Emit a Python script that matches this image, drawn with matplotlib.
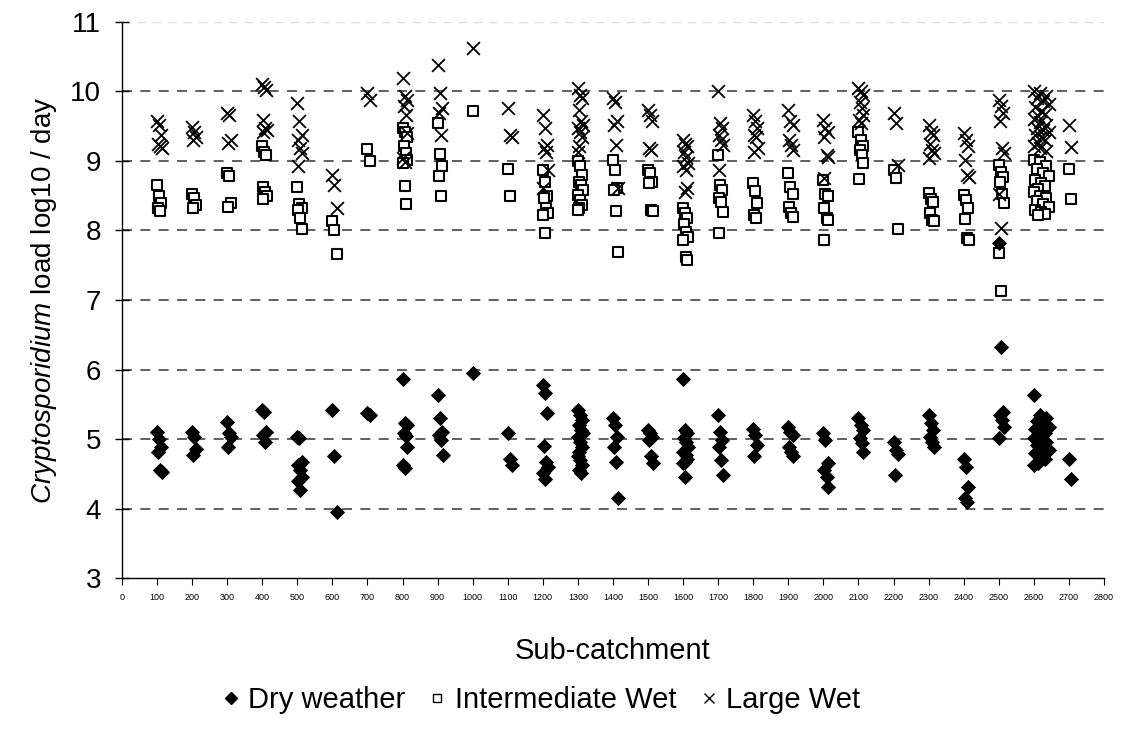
import matplotlib
matplotlib.use("Agg")
import matplotlib.pyplot as plt
from matplotlib.lines import Line2D

plt.rcParams['font.family'] = ['Liberation Sans', 'DejaVu Sans']
plt.rcParams['mathtext.fontset'] = 'custom'
plt.rcParams['mathtext.it'] = 'Liberation Sans:italic'
plt.rcParams['mathtext.rm'] = 'Liberation Sans'

# ---- data: log10 loads per sub-catchment ----
subcatchments = [100, 200, 300, 400, 500, 600, 700, 800, 900, 1000, 1100, 1200, 1300, 1400,
                 1500, 1600, 1700, 1800, 1900, 2000, 2100, 2200, 2300, 2400, 2500, 2600, 2700]

dry_weather = {
    100: [5.10, 5.00, 4.89, 4.81, 4.55, 4.53],
    200: [5.10, 5.03, 4.86, 4.77],
    300: [5.25, 5.08, 5.03, 4.89],
    400: [5.42, 5.39, 5.10, 5.06, 4.96],
    500: [5.03, 5.01, 4.67, 4.63, 4.55, 4.46, 4.39, 4.26],
    600: [5.42, 4.75, 3.95],
    700: [5.37, 5.35],
    800: [5.87, 5.23, 5.20, 5.08, 5.04, 4.89, 4.63, 4.58],
    900: [5.63, 5.30, 5.10, 5.06, 4.98, 4.77],
    1000: [5.95],
    1100: [5.08, 4.72, 4.63],
    1200: [5.78, 5.66, 5.37, 4.90, 4.67, 4.60, 4.51, 4.42],
    1300: [5.42, 5.35, 5.27, 5.20, 5.13, 5.08, 5.03, 4.96, 4.89, 4.82, 4.75, 4.70, 4.63, 4.55, 4.51],
    1400: [5.30, 5.20, 5.03, 4.89, 4.67, 4.15],
    1500: [5.13, 5.08, 5.03, 4.98, 4.75, 4.65],
    1600: [5.87, 5.13, 5.08, 5.01, 4.96, 4.89, 4.82, 4.77, 4.72, 4.67, 4.65, 4.46],
    1700: [5.35, 5.10, 4.98, 4.89, 4.70, 4.48],
    1800: [5.15, 5.06, 4.91, 4.75],
    1900: [5.18, 5.10, 5.06, 4.89, 4.82, 4.76],
    2000: [5.08, 4.98, 4.65, 4.55, 4.46, 4.31],
    2100: [5.30, 5.20, 5.13, 5.01, 4.94, 4.82],
    2200: [4.96, 4.84, 4.79, 4.48],
    2300: [5.35, 5.23, 5.13, 5.03, 4.96, 4.89],
    2400: [4.72, 4.60, 4.31, 4.15, 4.10],
    2500: [7.82, 6.33, 5.39, 5.35, 5.27, 5.18, 5.01],
    2600: [5.63, 5.35, 5.30, 5.26, 5.22, 5.18, 5.15, 5.12, 5.08, 5.05, 5.02, 4.99, 4.96,
           4.92, 4.88, 4.84, 4.80, 4.76, 4.72, 4.66, 4.62],
    2700: [4.71, 4.42],
}

intermediate_wet = {
    100: [8.65, 8.49, 8.39, 8.32, 8.28],
    200: [8.53, 8.46, 8.37, 8.33],
    300: [8.82, 8.79, 8.39, 8.34],
    400: [9.21, 9.13, 9.09, 8.63, 8.56, 8.49, 8.45],
    500: [8.63, 8.38, 8.32, 8.29, 8.18, 8.02],
    600: [8.13, 8.01, 7.66],
    700: [9.17, 9.00],
    800: [9.47, 9.42, 9.35, 9.21, 9.11, 9.01, 8.97, 8.64, 8.38],
    900: [9.55, 9.10, 8.93, 8.79, 8.50],
    1000: [9.72],
    1100: [8.88, 8.50],
    1200: [8.87, 8.70, 8.49, 8.46, 8.32, 8.25, 8.22, 7.96],
    1300: [9.00, 8.92, 8.80, 8.70, 8.65, 8.58, 8.51, 8.44, 8.37, 8.32, 8.29],
    1400: [9.01, 8.87, 8.61, 8.58, 8.28, 7.69],
    1500: [8.87, 8.82, 8.70, 8.68, 8.29, 8.28],
    1600: [8.32, 8.25, 8.18, 8.10, 7.98, 7.91, 7.86, 7.62, 7.58],
    1700: [9.09, 8.65, 8.58, 8.46, 8.41, 8.26, 7.97],
    1800: [8.68, 8.57, 8.40, 8.22, 8.18],
    1900: [8.82, 8.63, 8.53, 8.34, 8.25, 8.20],
    2000: [8.73, 8.53, 8.49, 8.33, 8.18, 8.15, 7.86],
    2100: [9.42, 9.30, 9.21, 9.16, 9.09, 8.97, 8.74],
    2200: [8.87, 8.75, 8.02],
    2300: [8.54, 8.45, 8.41, 8.25, 8.15, 8.13],
    2400: [8.51, 8.44, 8.32, 8.16, 7.89, 7.86],
    2500: [8.94, 8.84, 8.77, 8.69, 8.53, 8.40, 7.68, 7.13],
    2600: [9.02, 8.98, 8.93, 8.88, 8.83, 8.78, 8.72, 8.68, 8.64, 8.60, 8.55, 8.50, 8.46,
           8.42, 8.38, 8.34, 8.30, 8.27, 8.24, 8.22],
    2700: [8.88, 8.45],
}

large_wet = {
    100: [9.57, 9.52, 9.37, 9.25, 9.21, 9.18],
    200: [9.49, 9.42, 9.35, 9.30],
    300: [9.69, 9.66, 9.30, 9.26],
    400: [10.11, 10.06, 10.02, 9.59, 9.47, 9.44, 9.41],
    500: [9.83, 9.57, 9.37, 9.30, 9.18, 9.11, 8.92],
    600: [8.80, 8.65, 8.32],
    700: [9.97, 9.88],
    800: [10.19, 9.93, 9.88, 9.79, 9.66, 9.40, 9.04, 8.99],
    900: [10.38, 9.97, 9.76, 9.69, 9.37],
    1000: [10.62],
    1100: [9.76, 9.37, 9.35],
    1200: [9.66, 9.47, 9.23, 9.18, 9.13, 8.87, 8.61],
    1300: [10.05, 9.95, 9.90, 9.73, 9.57, 9.52, 9.47, 9.42, 9.35, 9.21, 9.13],
    1400: [9.90, 9.85, 9.57, 9.52, 9.23, 8.61],
    1500: [9.73, 9.66, 9.57, 9.18, 9.16],
    1600: [9.30, 9.25, 9.21, 9.13, 9.06, 8.97, 8.92, 8.87, 8.61, 8.56],
    1700: [10.00, 9.55, 9.47, 9.37, 9.30, 9.23, 8.87],
    1800: [9.66, 9.57, 9.47, 9.37, 9.35, 9.18, 9.13],
    1900: [9.73, 9.57, 9.52, 9.30, 9.23, 9.16],
    2000: [9.59, 9.47, 9.42, 9.35, 9.09, 9.06, 8.75],
    2100: [10.05, 10.00, 9.95, 9.85, 9.76, 9.66, 9.59, 9.55],
    2200: [9.69, 9.55, 8.94],
    2300: [9.52, 9.42, 9.37, 9.25, 9.16, 9.11, 9.04],
    2400: [9.40, 9.30, 9.21, 9.01, 8.80, 8.77],
    2500: [9.88, 9.79, 9.69, 9.57, 9.18, 9.11, 8.53, 8.03],
    2600: [10.00, 9.97, 9.93, 9.90, 9.86, 9.82, 9.78, 9.72, 9.68, 9.64, 9.60, 9.56, 9.52,
           9.48, 9.45, 9.42, 9.38, 9.34, 9.30, 9.26, 9.22, 9.18, 9.14],
    2700: [9.52, 9.20],
}

series_labels = ["Dry weather", "Intermediate Wet", "Large Wet"]
x_ticks = list(range(0, 2900, 100))
y_ticks = list(range(3, 12))

# small horizontal spread of points within a sub-catchment (layout only)
SPREAD = [0, 6, 12, 3, 9, 14, 1, 7, 11, 4]


def xy(d):
    xs, ys = [], []
    for g in subcatchments:
        vals = d.get(g, [])
        k = 3 if g == 2600 else 1
        for i, v in enumerate(vals):
            xs.append(g + k * SPREAD[i % len(SPREAD)])
            ys.append(v)
    return xs, ys


fig = plt.figure(figsize=(11.21, 7.29), dpi=100)
ax = fig.add_axes([0.1088, 0.207, 0.876, 0.763])

ax.set_xlim(0, 2800)
ax.set_ylim(3, 11)

for yv in y_ticks[1:-1]:
    ax.axhline(yv, color='#444444', lw=1.2, ls=(0, (6, 5)), zorder=0)
ax.axhline(11, color='#dddddd', lw=1.0, ls=(0, (6, 5)), zorder=0)

xd, yd = xy(dry_weather)
xi, yi = xy(intermediate_wet)
xl, yl = xy(large_wet)

ax.scatter(xl, yl, marker='x', s=85, c='black', linewidths=1.3, zorder=3)
ax.scatter(xi, yi, marker='s', s=55, facecolors='white', edgecolors='black', linewidths=1.5, zorder=2)
ax.scatter(xd, yd, marker='D', s=60, c='black', linewidths=0, zorder=4)

for s in ['top', 'right']:
    ax.spines[s].set_visible(False)
for s in ['left', 'bottom']:
    ax.spines[s].set_color('black')
    ax.spines[s].set_linewidth(1.0)

ax.set_xticks(x_ticks)
ax.set_xticklabels([str(t) for t in x_ticks], fontsize=6.5)
ax.set_yticks(y_ticks)
ax.set_yticklabels([str(t) for t in y_ticks], fontsize=20)
ax.tick_params(axis='y', direction='inout', length=10, width=1, pad=10)
ax.tick_params(axis='x', direction='out', length=5, width=0.8, pad=6)

ax.set_ylabel(r'$\it{Cryptosporidium}$ load log10 / day', fontsize=20, labelpad=8)
ax.set_xlabel('Sub-catchment', fontsize=21, labelpad=25)

handles = [
    Line2D([], [], marker='D', color='black', ls='none', markersize=6),
    Line2D([], [], marker='s', markerfacecolor='white', markeredgecolor='black', ls='none',
           markersize=6, markeredgewidth=1),
    Line2D([], [], marker='x', color='black', ls='none', markersize=7, markeredgewidth=1),
]
fig.legend(handles, series_labels, loc='center', bbox_to_anchor=(0.48, 0.04), ncol=3,
           frameon=False, fontsize=21, handletextpad=0.1, columnspacing=0.6,
           handlelength=1.0)

fig.savefig('out.png', dpi=100)
